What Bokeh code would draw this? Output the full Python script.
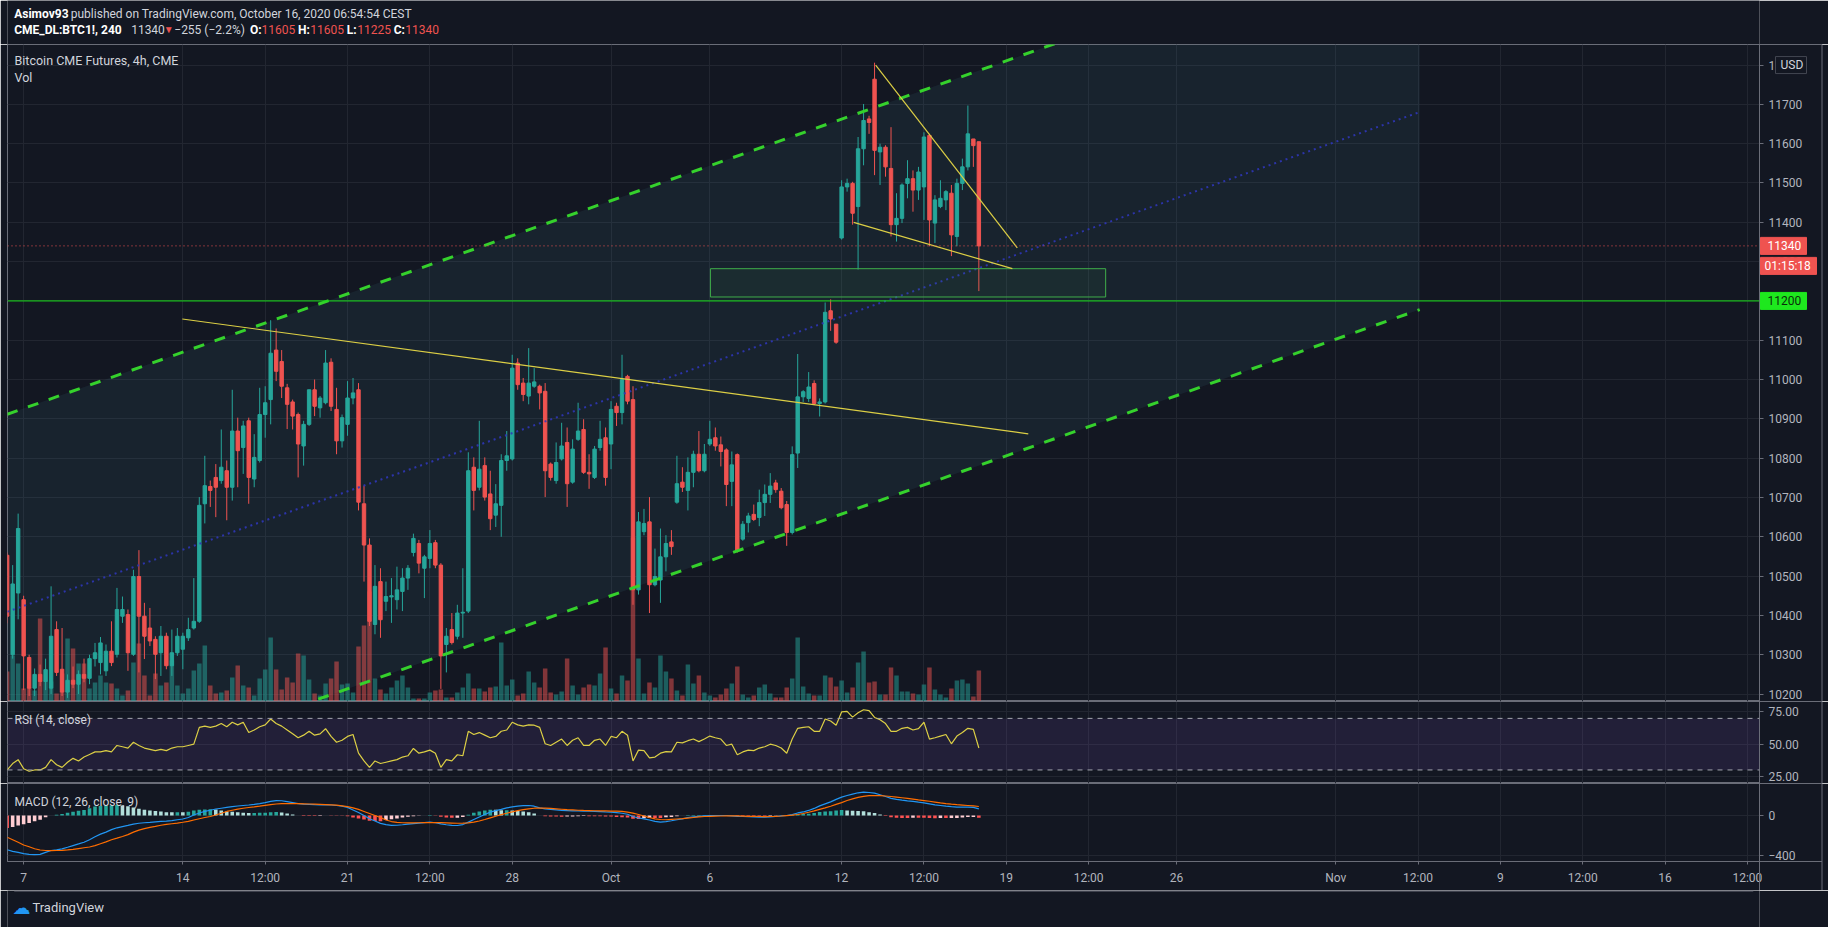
from bokeh.plotting import figure
from bokeh.models import Range1d, FixedTicker, Label, Span, BoxAnnotation, ColumnDataSource
from bokeh.layouts import column
from bokeh.embed import file_html
from bokeh.resources import INLINE
from bokeh.core.properties import value

# ---------------- data ----------------
bar_open = [10553, 10300, 10457, 10440, 10293, 10215, 10250, 10232, 10215, 10364,
            10263, 10205, 10235, 10225, 10250, 10240, 10290, 10280, 10259, 10309,
            10301, 10398, 10402, 10301, 10499, 10398, 10368, 10339, 10305, 10347,
            10272, 10305, 10314, 10343, 10368, 10385, 10684, 10728, 10751, 10743,
            10768, 10726, 10869, 10827, 10895, 10747, 10794, 10911, 10949, 11075,
            11046, 10979, 10943, 10911, 10831, 10886, 10974, 10928, 10941, 11044,
            10924, 10844, 10886, 10953, 10974, 10684, 10579, 10377, 10486, 10436,
            10447, 10440, 10461, 10495, 10560, 10583, 10520, 10545, 10585, 10528,
            10326, 10364, 10347, 10406, 10411, 10777, 10726, 10781, 10709, 10655,
            10680, 10794, 10798, 11042, 10991, 10958, 10983, 10983, 10970, 10785,
            10743, 10798, 10840, 10739, 10848, 10873, 10764, 10751, 10827, 10852,
            10836, 10932, 10916, 11008, 10949, 10465, 10613, 10638, 10478, 10490,
            10549, 10587, 10688, 10739, 10718, 10764, 10810, 10768, 10836, 10852,
            10834, 10821, 10741, 10809, 10594, 10636, 10657, 10649, 10687, 10708,
            10737, 10716, 10682, 10611, 10813, 10956, 10952, 10990, 10939, 10943,
            11175, 11141, 11360, 11490, 11499, 11440, 11587, 11663, 11764, 11579,
            11591, 11537, 11394, 11410, 11499, 11511, 11482, 11490, 11621, 11398,
            11440, 11457, 11474, 11364, 11499, 11541, 11612, 11605]
bar_high = [10560, 10528, 10659, 10450, 10300, 10265, 10275, 10290, 10474, 10385,
            10368, 10250, 10270, 10260, 10290, 10300, 10330, 10345, 10326, 10385,
            10470, 10448, 10415, 10516, 10566, 10432, 10419, 10347, 10373, 10356,
            10364, 10368, 10356, 10394, 10495, 10701, 10806, 10743, 10785, 10873,
            10794, 10974, 10903, 10895, 10903, 10861, 10979, 10983, 11151, 11130,
            11075, 10989, 10949, 10916, 10895, 10974, 11000, 10958, 11075, 11054,
            10979, 10911, 10996, 11004, 10991, 10730, 10596, 10528, 10520, 10486,
            10495, 10524, 10520, 10528, 10608, 10592, 10554, 10617, 10592, 10533,
            10368, 10406, 10427, 10520, 10815, 10802, 10895, 10802, 10768, 10734,
            10810, 10869, 11063, 11054, 11004, 11080, 11029, 10987, 10991, 10789,
            10840, 10890, 10878, 10848, 10941, 10899, 10810, 10831, 10895, 10878,
            10945, 10941, 11063, 11012, 10983, 10663, 10671, 10701, 10570, 10621,
            10604, 10617, 10806, 10777, 10802, 10819, 10869, 10836, 10895, 10878,
            10855, 10825, 10817, 10812, 10640, 10661, 10682, 10720, 10733, 10762,
            10745, 10724, 10691, 10830, 11065, 10973, 11019, 10998, 10952, 11196,
            11204, 11141, 11507, 11511, 11503, 11617, 11701, 11671, 11806, 11600,
            11596, 11642, 11474, 11499, 11558, 11532, 11541, 11629, 11625, 11469,
            11507, 11482, 11495, 11511, 11562, 11697, 11612, 11605]
bar_low = [10380, 10290, 10390, 10210, 10195, 10195, 10220, 10210, 10200, 10246,
           10195, 10190, 10215, 10200, 10230, 10225, 10270, 10250, 10246, 10271,
           10293, 10381, 10259, 10297, 10255, 10289, 10322, 10238, 10246, 10263,
           10246, 10297, 10263, 10335, 10364, 10381, 10634, 10676, 10650, 10735,
           10642, 10692, 10726, 10760, 10684, 10726, 10789, 10852, 10886, 10996,
           10953, 10874, 10873, 10751, 10781, 10882, 10907, 10903, 10937, 10920,
           10810, 10827, 10857, 10937, 10667, 10486, 10373, 10352, 10343, 10411,
           10381, 10415, 10411, 10465, 10550, 10507, 10444, 10520, 10520, 10213,
           10255, 10326, 10339, 10343, 10406, 10667, 10718, 10692, 10617, 10625,
           10600, 10768, 10794, 10974, 10945, 10937, 10979, 10924, 10701, 10743,
           10735, 10794, 10676, 10735, 10844, 10760, 10722, 10747, 10819, 10730,
           10772, 10882, 10886, 10937, 10427, 10453, 10604, 10406, 10474, 10432,
           10512, 10554, 10684, 10714, 10667, 10726, 10764, 10764, 10831, 10819,
           10779, 10678, 10678, 10560, 10590, 10611, 10640, 10627, 10653, 10686,
           10712, 10670, 10577, 10606, 10775, 10943, 10943, 10935, 10906, 10939,
           11124, 11091, 11356, 11478, 11394, 11280, 11545, 11625, 11520, 11495,
           11516, 11364, 11351, 11398, 11461, 11427, 11457, 11406, 11339, 11347,
           11436, 11431, 11314, 11339, 11482, 11532, 11541, 11225]
bar_close = [10398, 10480, 10621, 10297, 10215, 10250, 10232, 10262, 10347, 10255,
             10205, 10235, 10225, 10250, 10240, 10290, 10305, 10330, 10309, 10280,
             10415, 10415, 10305, 10499, 10398, 10347, 10335, 10301, 10347, 10272,
             10305, 10347, 10347, 10364, 10385, 10680, 10730, 10718, 10726, 10777,
             10726, 10869, 10819, 10882, 10751, 10802, 10911, 10941, 11067, 11021,
             10983, 10937, 10907, 10836, 10886, 10974, 10932, 10953, 11042, 10932,
             10844, 10903, 10953, 10966, 10688, 10579, 10385, 10474, 10389, 10448,
             10450, 10465, 10495, 10520, 10596, 10533, 10549, 10583, 10528, 10297,
             10347, 10331, 10406, 10408, 10768, 10718, 10772, 10701, 10646, 10684,
             10794, 10806, 11029, 10987, 10962, 10991, 10994, 10966, 10768, 10751,
             10789, 10831, 10735, 10823, 10869, 10764, 10760, 10823, 10848, 10751,
             10924, 10916, 11000, 10945, 10465, 10638, 10634, 10478, 10499, 10549,
             10583, 10575, 10735, 10726, 10764, 10810, 10768, 10810, 10848, 10831,
             10817, 10733, 10783, 10564, 10632, 10653, 10644, 10687, 10708, 10729,
             10720, 10674, 10611, 10809, 10956, 10969, 10981, 10939, 10943, 11171,
             11154, 11095, 11490, 11499, 11423, 11587, 11659, 11654, 11583, 11591,
             11541, 11394, 11410, 11495, 11511, 11482, 11528, 11617, 11406, 11457,
             11461, 11478, 11368, 11499, 11541, 11625, 11595, 11340]
volume = [300, 460, 380, 130, 140, 110, 830, 210, 200, 80,
          280, 630, 530, 380, 380, 130, 190, 260, 190, 180,
          130, 60, 110, 390, 580, 260, 60, 280, 160, 190,
          410, 160, 80, 130, 310, 380, 560, 160, 80, 90,
          110, 240, 360, 160, 140, 60, 230, 320, 640, 320,
          120, 240, 190, 480, 460, 220, 80, 60, 180, 230,
          400, 170, 180, 90, 550, 760, 1100, 230, 120, 80,
          140, 210, 260, 140, 30, 30, 30, 90, 110, 120,
          40, 40, 90, 140, 280, 130, 130, 100, 140, 150,
          590, 160, 220, 60, 80, 300, 190, 140, 330, 90,
          70, 100, 430, 160, 70, 140, 170, 160, 280, 540,
          130, 80, 260, 210, 1640, 430, 80, 190, 140, 460,
          300, 230, 110, 60, 370, 180, 260, 90, 60, 40,
          70, 130, 180, 350, 70, 40, 60, 140, 170, 80,
          40, 40, 140, 230, 640, 150, 80, 60, 60, 260,
          240, 150, 210, 90, 140, 390, 500, 190, 200, 70,
          70, 340, 260, 100, 100, 80, 70, 170, 340, 120,
          70, 40, 130, 210, 220, 180, 50, 310]
rsi_values = [30, 35, 38, 31, 29, 30, 30, 32, 38, 34,
              32, 36, 39, 37, 40, 42, 44, 44, 45, 44,
              49, 48, 47, 51.5, 49, 47, 46, 45, 46, 45,
              47, 48, 48, 49, 50, 63, 64, 63, 64, 66,
              63.5, 67, 65, 67, 59, 61, 63.5, 65, 69.5, 66,
              64, 61, 58, 55, 57, 60, 57, 58, 62, 56,
              51.5, 53, 56, 57.5, 43, 37, 32, 37, 35, 36,
              37, 38, 40, 41, 46.7, 43, 44, 45.4, 43, 32,
              38, 37, 41.8, 41, 60, 57.5, 59, 57, 55, 56,
              60, 61, 67, 65, 64, 65, 64.7, 63, 50.3, 49,
              51.5, 54, 49, 53, 55, 49, 49, 53, 54, 49,
              56, 55, 60, 57, 37, 45.4, 45, 39.4, 40, 43,
              44.2, 44, 51.5, 51, 52.7, 54, 52, 54, 56.3, 55,
              54, 49, 50, 41.8, 44, 45.4, 45, 47, 48, 50,
              49, 47, 43, 54, 62.3, 63, 63.5, 60, 60, 69.5,
              68, 64.7, 75, 75.5, 71, 74.3, 76.7, 76, 70.7, 69,
              66, 59.9, 60, 62.3, 63, 61, 62, 67, 53.9, 55,
              56.3, 57.5, 50.3, 56.3, 59, 62.3, 61.5, 47]
macd_values = [-340, -355, -365, -378, -385, -387, -385, -365, -347, -340,
               -331, -315, -298, -282, -265, -240, -210, -185, -165, -140,
               -122, -110, -98, -85, -77, -72, -68, -63, -58, -56,
               -50, -42, -35, -20, 5, 25, 40, 52, 64, 72,
               80, 88, 94, 99, 104, 110, 118, 128, 140, 148,
               146, 138, 128, 118, 112, 110, 107, 106, 108, 104,
               99, 92, 80, 55, 30, 0, -33, -55, -78, -90,
               -98, -97, -92, -86, -80, -75, -70, -66, -72, -83,
               -92, -98, -99, -90, -66, -40, -15, 10, 33, 48,
               60, 75, 85, 92, 97, 99, 92, 75, 66, 60,
               55, 50, 48, 46, 45, 44, 42, 40, 38, 35,
               33, 28, 22, 12, -10, -25, -33, -45, -58, -66,
               -60, -52, -42, -33, -20, -14, -8, -4, -2, 0,
               0, 0, -3, -8, -10, -12, -14, -16, -17, -15,
               -10, -4, 0, 10, 25, 35, 50, 70, 95, 115,
               135, 160, 182, 198, 212, 225, 231, 228, 222, 205,
               188, 170, 160, 152, 145, 140, 132, 125, 115, 105,
               99, 92, 87, 83, 82, 83, 80, 66]
signal_values = [-215, -240, -265, -292, -310, -330, -342, -347, -348, -347,
                 -345, -341, -336, -328, -320, -312, -298, -280, -262, -240,
                 -225, -208, -190, -165, -145, -130, -118, -108, -97, -89,
                 -82, -75, -67, -58, -45, -32, -20, -10, 5, 22,
                 40, 52, 63, 72, 79, 85, 92, 100, 108, 114,
                 117, 118, 118, 117, 116, 114, 112, 110, 108, 106,
                 102, 95, 87, 75, 60, 40, 20, 0, -20, -45,
                 -60, -68, -72, -73, -73, -72, -71, -70, -70, -71,
                 -73, -75, -77, -76, -74, -66, -55, -40, -24, -8,
                 8, 22, 36, 48, 58, 66, 72, 74, 73, 70,
                 66, 62, 58, 55, 52, 50, 49, 47, 46, 45,
                 44, 43, 40, 33, 23, 10, -5, -20, -33, -40,
                 -42, -38, -35, -32, -26, -20, -14, -10, -8, -6,
                 -5, -4, -3, -4, -6, -8, -9, -10, -11, -10,
                 -8, -5, -1, 3, 10, 20, 32, 45, 60, 75,
                 92, 110, 128, 149, 165, 180, 190, 196, 198, 196,
                 193, 188, 182, 176, 170, 163, 155, 148, 141, 133,
                 125, 118, 112, 107, 103, 99, 95, 89]

time_tick_pos = [3, 32, 47, 62, 77, 92, 110, 128, 152, 167, 182, 197, 213, 242, 257, 272, 287, 302, 317]
time_tick_labels = ["7", "14", "12:00", "21", "12:00", "28", "Oct", "6", "12", "12:00",
                    "19", "12:00", "26", "Nov", "12:00", "9", "12:00", "16", "12:00"]
price_ticks = [10200, 10300, 10400, 10500, 10600, 10700, 10800, 10900, 11000,
               11100, 11200, 11300, 11400, 11500, 11600, 11700, 11800]
rsi_ticks = [25, 50, 75]
rsi_band = [30, 70]
macd_ticks = [-400, 0]

# chart drawings (bar index / price anchors)
channel_x = [0, 257.3]
channel_upper = [10911.6, 12182.7]
channel_lower = [9906.9, 11178.0]
trend_long_x = [31.9, 186.0]
trend_long_y = [11154, 10862]
wedge_top_x = [158.2, 184.0]
wedge_top_y = [11800, 11335]
wedge_bot_x = [154.2, 183.1]
wedge_bot_y = [11400, 11282]
zone_x = [128.1, 200.1]
zone_y = [11210, 11282]
hline_price = 11200
countdown = "01:15:18"

# ---------------- styling ----------------
BG = "#131722"
GRID = "#222631"
BORDER = "#6a6d78"
AX_TXT = "#b2b5be"
TXT = "#d1d4dc"
UP = "#26a69a"
DN = "#ef5350"
YEL = "#dccf45"
CH_GREEN = "#35d12c"
H_GREEN = "#19e019"
FONT = "Roboto"
LB = 7          # left border (px)
FW = 1752       # frame width (px)
RB = 69         # right border incl. price scale (px)
OUTER_R = 1821.5  # page x of the chart's outer right border
PRICE_H = 657

n = len(bar_open)
idx = list(range(n))
last_price = bar_close[-1]
prev_close = bar_close[-2]

xr = Range1d(0.06, 319.2)
px_per_bar = FW / (xr.end - xr.start)


def bar_at(px):
    """bar coordinate of a page x position"""
    return xr.start + (px - LB) / px_per_bar


def panel(h, yr, ticks, bottom=0, xaxis=False):
    p = figure(frame_width=FW, frame_height=h, x_range=xr, y_range=yr,
               x_axis_location="below" if xaxis else None, y_axis_location="right",
               output_backend="svg", toolbar_location=None,
               min_border_left=LB, min_border_right=RB, min_border_top=0,
               min_border_bottom=bottom,
               background_fill_color=BG, border_fill_color=BG,
               outline_line_color=BORDER)
    ax = p.yaxis[0]
    ax.ticker = FixedTicker(ticks=ticks)
    ax.axis_line_color = BORDER
    ax.major_tick_line_color = BORDER
    ax.major_tick_out = 4
    ax.major_tick_in = 0
    ax.minor_tick_line_color = None
    ax.major_label_text_color = AX_TXT
    ax.major_label_text_font = FONT
    ax.major_label_text_font_size = "12px"
    ax.major_label_standoff = 5
    p.ygrid.grid_line_color = GRID
    p.xgrid.ticker = FixedTicker(ticks=time_tick_pos)
    p.xgrid.grid_line_color = GRID
    if xaxis:
        xa = p.xaxis[0]
        xa.ticker = FixedTicker(ticks=time_tick_pos)
        xa.major_label_overrides = {t: l for t, l in zip(time_tick_pos, time_tick_labels)}
        xa.axis_line_color = BORDER
        xa.major_tick_line_color = BORDER
        xa.major_tick_out = 3
        xa.major_tick_in = 0
        xa.minor_tick_line_color = None
        xa.major_label_text_color = AX_TXT
        xa.major_label_text_font = FONT
        xa.major_label_text_font_size = "12px"
        xa.major_label_standoff = 6
    # separators and outer border across the price-scale column
    xr_edge = bar_at(OUTER_R)
    p.line([xr.end, xr_edge], [yr.end, yr.end], line_color=BORDER, line_width=1, level="overlay")
    p.line([xr.end, xr_edge], [yr.start, yr.start], line_color=BORDER, line_width=1, level="overlay")
    ybot = yr.start - bottom * (yr.end - yr.start) / h
    p.line([xr_edge, xr_edge], [ybot, yr.end], line_color=BORDER, line_width=1, level="overlay")
    if bottom:
        p.line([xr.end, xr.end], [ybot, yr.start], line_color=BORDER, line_width=1,
               level="overlay")
    return p


def legend_text(p, yr, h, text, page_x, y_from_top, size="12.5px"):
    """legend text placed through the panel's own scales"""
    yy = yr.end - y_from_top * (yr.end - yr.start) / h
    p.text(x=[bar_at(page_x)], y=[yy], text=[text], text_font=value(FONT),
           text_font_size=value(size), text_color=TXT, text_align="left",
           text_baseline="middle", level="overlay")


# ---------------- price panel ----------------
yr_price = Range1d(10181.0, 11852.3)
px_per_usd = PRICE_H / (yr_price.end - yr_price.start)
price = panel(PRICE_H, yr_price, price_ticks)
price.extra_y_ranges = {"vol": Range1d(0, 6570)}

colors = [UP if c >= o else DN for o, c in zip(bar_open, bar_close)]
src = ColumnDataSource(dict(
    x=idx, o=bar_open, h=bar_high, l=bar_low, c=bar_close,
    top=[max(o, c) for o, c in zip(bar_open, bar_close)],
    bot=[min(o, c) for o, c in zip(bar_open, bar_close)],
    col=colors, vol=volume))

# parallel channel background
price.patch(x=[channel_x[0], channel_x[1], channel_x[1], channel_x[0]],
            y=[channel_upper[0], channel_upper[1], channel_lower[1], channel_lower[0]],
            fill_color="#3f7a8c", fill_alpha=0.12, line_color=None)

price.vbar(x="x", top="vol", bottom=0, width=0.82, fill_color="col", fill_alpha=0.5,
           line_color=None, y_range_name="vol", source=src)

price.segment(x0="x", y0="l", x1="x", y1="h", line_color="col", line_width=1, source=src)
price.vbar(x="x", top="top", bottom="bot", width=0.62, fill_color="col", line_color="col",
           line_width=1, source=src)

# channel lines
channel_mid = [(u + l) / 2 for u, l in zip(channel_upper, channel_lower)]
price.line(channel_x, channel_mid, line_color="#2f36b8", line_width=2, line_dash="2 4",
           line_alpha=0.9)
price.line(channel_x, channel_upper, line_color=CH_GREEN, line_width=3, line_dash="11 11")
price.line(channel_x, channel_lower, line_color=CH_GREEN, line_width=3, line_dash="11 11")

# support zone + horizontal level
price.quad(left=[zone_x[0]], right=[zone_x[1]], bottom=[zone_y[0]], top=[zone_y[1]],
           fill_color="#4caf50", fill_alpha=0.07, line_color="#3fae4a", line_width=1)
price.add_layout(Span(location=hline_price, dimension="width", line_color=H_GREEN,
                      line_width=1))

# trend lines
price.line(trend_long_x, trend_long_y, line_color=YEL, line_width=1.2)
price.line(wedge_top_x, wedge_top_y, line_color=YEL, line_width=1.2)
price.line(wedge_bot_x, wedge_bot_y, line_color=YEL, line_width=1.2)

# last price line
price.add_layout(Span(location=last_price, dimension="width", line_color=DN,
                      line_width=1, line_dash="1 3"))

legend_text(price, yr_price, PRICE_H, "Bitcoin CME Futures, 4h, CME", 14, 16)
legend_text(price, yr_price, PRICE_H, "Vol", 14, 33)

# price scale tags (drawn above the scale, outside the frame)
tags = [
    # text, price, box left px, box right px, text left px, y shift px, fill, text colour, line
    ("USD", price_ticks[-1], 1775, 1806, 1780, 0, BG, TXT, "#434651"),
    (str(last_price), last_price, 1760, 1806, 1767, 0, DN, "#ffffff", DN),
    (countdown, last_price, 1760, 1816, 1764, -20, DN, "#ffffff", DN),
    (str(hline_price), hline_price, 1760, 1806, 1767, 0, "#1ee81e", "#0b2e0b", "#1ee81e"),
]
for t, pr, bl, br, tl, dy, fc, tc, lc in tags:
    yy = pr + dy / px_per_usd
    price.rect(x=[bar_at((bl + br) / 2)], y=[yy], width=br - bl, height=17,
               width_units="screen", height_units="screen", fill_color=fc,
               line_color=lc, level="overlay")
    price.text(x=[bar_at(tl)], y=[yy], text=[t], text_font=value(FONT),
               text_font_size=value("12px"), text_color=tc, text_align="left",
               text_baseline="middle", level="overlay")

# ---------------- RSI panel ----------------
yr_rsi = Range1d(19.5, 83.1)
rsi = panel(82, yr_rsi, rsi_ticks)
rsi.yaxis[0].major_label_overrides = {t: f"{t:.2f}" for t in rsi_ticks}
rsi.add_layout(BoxAnnotation(bottom=rsi_band[0], top=rsi_band[1], fill_color="#7e57c2",
                             fill_alpha=0.14, line_color=None, level="underlay"))
for lvl in rsi_band:
    rsi.add_layout(Span(location=lvl, dimension="width", line_color="#a3a6af",
                        line_width=1, line_dash="5 5"))
rsi.line(idx, rsi_values, line_color=YEL, line_width=1.2)
legend_text(rsi, yr_rsi, 82, "RSI (14, close)", 14, 18, "12px")

# ---------------- MACD panel ----------------
yr_macd = Range1d(-456, 317)
macd = panel(78, yr_macd, macd_ticks, bottom=29, xaxis=True)
macd.yaxis[0].major_label_overrides = {-400: "\u2212400", 0: "0"}
hist = [m - s for m, s in zip(macd_values, signal_values)]
hcol = []
for i, h in enumerate(hist):
    prev = hist[i - 1] if i > 0 else h
    if h >= 0:
        hcol.append("#26a69a" if h >= prev else "#b2dfdb")
    else:
        hcol.append("#ffcdd2" if h > prev else "#ff5252")
macd.vbar(x=idx, top=hist, bottom=0, width=0.65, fill_color=hcol, line_color=None)
macd.line(idx, macd_values, line_color="#2196f3", line_width=1.2)
macd.line(idx, signal_values, line_color="#ff6d00", line_width=1.2)
legend_text(macd, yr_macd, 78, "MACD (12, 26, close, 9)", 14, 18, "12px")

# ---------------- header & footer ----------------
def strip(h, y0, y1):
    p = figure(width=LB + FW + RB, height=h, x_range=Range1d(0, LB + FW + RB),
               y_range=Range1d(y1, y0), x_axis_location=None, y_axis_location=None,
               output_backend="svg", toolbar_location=None, min_border=0,
               background_fill_color=BG, border_fill_color=BG, outline_line_color=None)
    p.grid.visible = False
    return p


header = strip(44, 0, 44)
chg = last_price - prev_close
pct = chg / prev_close * 100
neg = "\u2212"
segments = [
    ("Asimov93", 7, 13, "bold", "#ffffff", "12px"),
    ("published on TradingView.com, October 16, 2020 06:54:54 CEST", 66, 13, "normal", TXT, "12px"),
    ("CME_DL:BTC1!, 240", 7, 29, "bold", "#ffffff", "12px"),
    (str(last_price), 129, 29, "normal", TXT, "12px"),
    ("\u25bc", 163, 29, "normal", DN, "10px"),
    (f"{neg}{abs(chg)} ({neg}{abs(pct):.1f}%)", 174, 29, "normal", TXT, "12px"),
    ("O:", 253, 29, "bold", "#ffffff", "12px"),
    (str(bar_open[-1]), 265, 29, "normal", DN, "12px"),
    ("H:", 303, 29, "bold", "#ffffff", "12px"),
    (str(bar_high[-1]), 316, 29, "normal", DN, "12px"),
    ("L:", 354, 29, "bold", "#ffffff", "12px"),
    (str(bar_low[-1]), 365, 29, "normal", DN, "12px"),
    ("C:", 403, 29, "bold", "#ffffff", "12px"),
    (str(bar_close[-1]), 415, 29, "normal", DN, "12px"),
]
for t, x, y, style, colr, size in segments:
    header.text(x=[x], y=[y], text=[t], text_font=value(FONT), text_font_size=value(size),
                text_font_style=style, text_color=colr, text_align="left",
                text_baseline="middle")

footer = strip(37, 890, 927)
footer.line(x=[LB, OUTER_R], y=[890.5, 890.5], line_color=BORDER, line_width=1)
footer.text(x=[5], y=[907], text=["\u2601"], text_font=value("DejaVu Sans"),
            text_font_size=value("18px"), text_color="#2196f3", text_align="left",
            text_baseline="middle")
footer.text(x=[26], y=[907], text=["TradingView"], text_font=value(FONT),
            text_font_size=value("13px"), text_color=TXT, text_align="left",
            text_baseline="middle")

layout = column(header, price, rsi, macd, footer, spacing=0)
open("out.html", "w").write(file_html(layout, INLINE))
